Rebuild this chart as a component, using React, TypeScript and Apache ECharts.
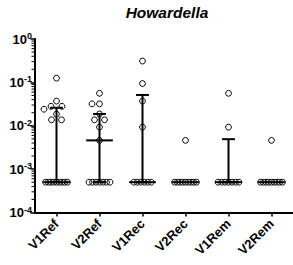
import React, { useEffect, useRef } from 'react';
import * as echarts from 'echarts';

const categories = ['V1Ref', 'V2Ref', 'V1Rec', 'V2Rec', 'V1Rem', 'V2Rem'];
const LOD = 0.0005;

const v1Ref = [0.125, 0.037, 0.028, 0.028, 0.024, 0.0185, 0.0137, 0.0137, 0.0005, 0.0005, 0.0005, 0.0005, 0.0005, 0.0005, 0.0005, 0.0005, 0.0005];
const v2Ref = [0.056, 0.032, 0.032, 0.0187, 0.0137, 0.0137, 0.0093, 0.0046, 0.0005, 0.0005, 0.0005, 0.0005, 0.0005, 0.0005, 0.0005];
const v1Rec = [0.31, 0.094, 0.037, 0.0093, 0.0005, 0.0005, 0.0005, 0.0005, 0.0005, 0.0005];
const v2Rec = [0.0046, 0.0005, 0.0005, 0.0005, 0.0005, 0.0005, 0.0005, 0.0005, 0.0005, 0.0005];
const v1Rem = [0.056, 0.0093, 0.0005, 0.0005, 0.0005, 0.0005, 0.0005, 0.0005, 0.0005];
const v2Rem = [0.0046, 0.0005, 0.0005, 0.0005, 0.0005, 0.0005, 0.0005, 0.0005, 0.0005, 0.0005];

const groups = [v1Ref, v2Ref, v1Rec, v2Rec, v1Rem, v2Rem];
const minorTickValues = [
  0.0002, 0.0003, 0.0004, 0.0005, 0.0006, 0.0007, 0.0008, 0.0009,
  0.002, 0.003, 0.004, 0.005, 0.006, 0.007, 0.008, 0.009,
  0.02, 0.03, 0.04, 0.05, 0.06, 0.07, 0.08, 0.09,
  0.2, 0.3, 0.4, 0.5, 0.6, 0.7, 0.8, 0.9,
];

const FONT = 'Liberation Sans, Arial, Helvetica, sans-serif';

function percentile(vals: number[], p: number): number {
  const s = [...vals].sort((a, b) => a - b);
  const n = s.length;
  const pos = p * (n + 1);
  if (pos <= 1) return s[0];
  if (pos >= n) return s[n - 1];
  const lo = Math.floor(pos);
  const f = pos - lo;
  return s[lo - 1] + f * (s[lo] - s[lo - 1]);
}

function layout(vals: number[], ys: number[]): number[] {
  const offs = new Array(vals.length).fill(0);
  const lodIdx = vals.map((v, i) => (v === LOD ? i : -1)).filter((i) => i >= 0);
  const k = lodIdx.length;
  if (k > 0) {
    const s = k > 1 ? Math.min(3.5, 22 / (k - 1)) : 0;
    lodIdx.forEach((idx, j) => {
      offs[idx] = (j - (k - 1) / 2) * s;
    });
  }
  const others = vals.map((v, i) => i).filter((i) => vals[i] !== LOD).sort((a, b) => vals[b] - vals[a]);
  const placed: number[] = [];
  const D = 7.5;
  others.forEach((i) => {
    let chosen = 0;
    for (let step = 0; step < 80; step++) {
      const cand = step === 0 ? 0 : (step % 2 === 1 ? -1 : 1) * Math.ceil(step / 2) * 0.5;
      let ok = true;
      for (const p of placed) {
        const dx = cand - offs[p];
        const dy = ys[i] - ys[p];
        if (dx * dx + dy * dy < D * D) { ok = false; break; }
      }
      if (ok) { chosen = cand; break; }
    }
    offs[i] = chosen;
    placed.push(i);
  });
  return offs;
}

export default function App() {
  const ref = useRef<HTMLDivElement>(null);
  useEffect(() => {
    document.body.style.margin = '0';
    const chart = echarts.init(ref.current!, null, { renderer: 'svg' });

    const pointData: number[][] = [];
    groups.forEach((g, c) => g.forEach((v, j) => pointData.push([c, v, j])));
    const barData = groups.map((g, c) => [c, percentile(g, 0.25), percentile(g, 0.5), percentile(g, 0.75)]);
    const minorData = minorTickValues.map((v) => [0, v]);

    chart.setOption({
      animation: false,
      grid: { left: 35, top: 39, width: 261, height: 173.5, containLabel: false },
      graphic: [
        {
          type: 'text',
          x: 167,
          y: 12,
          style: {
            text: 'Howardella',
            font: `italic bold 15.5px ${FONT}`,
            fill: '#000',
            textAlign: 'center',
            textVerticalAlign: 'middle',
          },
        },
      ],
      xAxis: {
        type: 'category',
        data: categories,
        boundaryGap: true,
        axisLine: { show: true, lineStyle: { color: '#000', width: 2 } },
        axisTick: { show: true, alignWithLabel: true, length: 4, lineStyle: { color: '#000', width: 1.5 } },
        axisLabel: {
          interval: 0,
          rotate: 45,
          margin: 9,
          color: '#000',
          fontWeight: 'bold',
          fontSize: 13,
          fontFamily: FONT,
        },
        splitLine: { show: false },
      },
      yAxis: {
        type: 'log',
        logBase: 10,
        min: 0.0001,
        max: 1,
        axisLine: { show: true, lineStyle: { color: '#000', width: 2 } },
        axisTick: { show: true, length: 4.5, lineStyle: { color: '#000', width: 1.5 } },
        splitLine: { show: false },
        axisLabel: {
          margin: 3,
          color: '#000',
          formatter: (v: number) => `{b|10}{s|${Math.round(Math.log10(v))}}`,
          rich: {
            b: { fontSize: 13, fontWeight: 'bold', fontFamily: FONT, color: '#000', lineHeight: 15 },
            s: { fontSize: 9, fontWeight: 'bold', fontFamily: FONT, color: '#000', lineHeight: 10, verticalAlign: 'top' },
          },
        },
      },
      series: [
        {
          type: 'custom',
          name: 'minorTicks',
          data: minorData,
          clip: false,
          silent: true,
          renderItem: (params: any, api: any) => {
            const p = api.coord([0, api.value(1)]);
            const x0 = p[0] - api.size([1, 0])[0] / 2 - 1;
            return {
              type: 'line',
              shape: { x1: x0 - 2.5, y1: p[1], x2: x0, y2: p[1] },
              style: { stroke: '#000', lineWidth: 1 },
            };
          },
        },
        {
          type: 'custom',
          name: 'points',
          data: pointData,
          z: 2,
          renderItem: (params: any, api: any) => {
            const c = api.value(0);
            const j = api.value(2);
            const g = groups[c];
            const ys = g.map((v) => api.coord([c, v])[1]);
            const offs = layout(g, ys);
            const cx = api.coord([c, g[j]])[0] + offs[j];
            return {
              type: 'circle',
              shape: { cx, cy: ys[j], r: 2.9 },
              style: { fill: 'none', stroke: '#000', lineWidth: 1 },
            };
          },
        },
        {
          type: 'custom',
          name: 'bars',
          data: barData,
          z: 3,
          renderItem: (params: any, api: any) => {
            const c = api.value(0);
            const pm = api.coord([c, api.value(2)]);
            const y1 = api.coord([c, api.value(1)])[1];
            const y3 = api.coord([c, api.value(3)])[1];
            const band = api.size([1, 0])[0];
            const mh = band * 0.31;
            const ch = band * 0.15;
            const x = pm[0];
            const st = { stroke: '#000', lineWidth: 2 };
            const children: any[] = [];
            if (Math.abs(y1 - y3) > 0.5) {
              children.push({ type: 'line', shape: { x1: x, y1: y1, x2: x, y2: y3 }, style: st });
              children.push({ type: 'line', shape: { x1: x - ch, y1: y3, x2: x + ch, y2: y3 }, style: st });
              children.push({ type: 'line', shape: { x1: x - ch, y1: y1, x2: x + ch, y2: y1 }, style: st });
            }
            children.push({ type: 'line', shape: { x1: x - mh, y1: pm[1], x2: x + mh, y2: pm[1] }, style: st });
            return { type: 'group', children };
          },
        },
      ],
    });
    return () => chart.dispose();
  }, []);
  return <div ref={ref} style={{ width: 293, height: 265 }} />;
}
